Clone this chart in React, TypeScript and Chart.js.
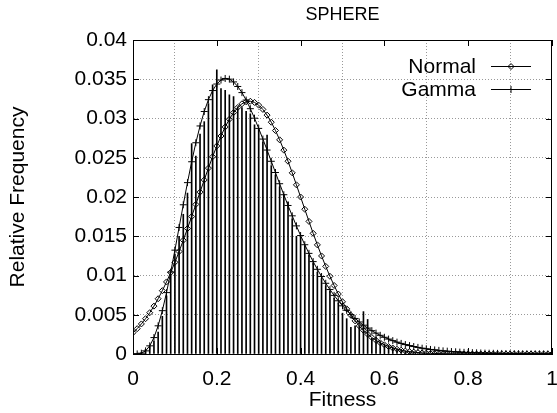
import React, { useEffect, useRef } from 'react';
import { Chart, registerables } from 'chart.js';

Chart.register(...registerables);

const TITLE = 'SPHERE';
const X_LABEL = 'Fitness';
const Y_LABEL = 'Relative Frequency';
const SERIES_NAMES = ['Normal', 'Gamma'];

const X_TICKS = [0, 0.2, 0.4, 0.6, 0.8, 1];
const X_TICK_LABELS = ['0', '0.2', '0.4', '0.6', '0.8', '1'];
const Y_TICKS = [0, 0.005, 0.01, 0.015, 0.02, 0.025, 0.03, 0.035, 0.04];
const Y_TICK_LABELS = ['0', '0.005', '0.01', '0.015', '0.02', '0.025', '0.03', '0.035', '0.04'];

// histogram impulses: first bin at HIST_START, one every HIST_STEP
const HIST_START = 0;
const HIST_STEP = 0.01;
const HIST_FREQ = [
  0, 0.0001, 0.0002, 0.0006, 0.0010, 0.0016, 0.0028, 0.0048, 0.0074, 0.0100,
  0.0127, 0.0150, 0.0178, 0.0205, 0.0268, 0.0252, 0.0280, 0.0296, 0.0319, 0.0343,
  0.0362, 0.0338, 0.0336, 0.0330, 0.0328, 0.0315, 0.0314, 0.0309, 0.0306, 0.0292,
  0.0287, 0.0270, 0.0279, 0.0240, 0.0228, 0.0213, 0.0203, 0.0194, 0.0172, 0.0150,
  0.0149, 0.0138, 0.0126, 0.0116, 0.0104, 0.0096, 0.0087, 0.0080, 0.0071, 0.0065,
  0.0052, 0.0045, 0.0034, 0.0036, 0.0036, 0.0054, 0.0044, 0.0020, 0.0022, 0.0016,
  0.0013, 0.0011, 0.0009, 0.0007, 0.0006, 0.0004, 0.0003, 0.0003, 0.0002, 0.0001,
  0.0001,
];

// fitted curves: sampled from CURVE_START every CURVE_STEP
const CURVE_START = 0;
const CURVE_STEP = 0.01;
const NORMAL_FIT = [
  0.00272, 0.00323, 0.00383, 0.00450, 0.00526, 0.00610, 0.00704, 0.00807, 0.00918, 0.01039,
  0.01168, 0.01305, 0.01449, 0.01598, 0.01751, 0.01906, 0.02062, 0.02217, 0.02368, 0.02513,
  0.02650, 0.02777, 0.02892, 0.02991, 0.03075, 0.03140, 0.03187, 0.03213, 0.03220, 0.03205,
  0.03170, 0.03116, 0.03043, 0.02953, 0.02847, 0.02728, 0.02597, 0.02456, 0.02308, 0.02155,
  0.02000, 0.01844, 0.01689, 0.01537, 0.01390, 0.01249, 0.01116, 0.00990, 0.00873, 0.00764,
  0.00665, 0.00575, 0.00494, 0.00422, 0.00358, 0.00302, 0.00253, 0.00210, 0.00174, 0.00143,
  0.00117, 0.00095, 0.00076, 0.00061, 0.00049, 0.00038, 0.00030, 0.00024, 0.00018, 0.00014,
  0.00011, 0.00008, 0.00006, 0.00005, 0.00003, 0.00002, 0.00002, 0.00001, 0.00001, 0.00001,
  0.00001, 0, 0, 0, 0, 0, 0, 0, 0, 0,
  0, 0, 0, 0, 0, 0, 0, 0, 0, 0,
  0,
];
const GAMMA_FIT = [
  0, 0.00001, 0.00010, 0.00040, 0.00104, 0.00209, 0.00359, 0.00552, 0.00782, 0.01043,
  0.01323, 0.01612, 0.01901, 0.02183, 0.02449, 0.02691, 0.02905, 0.03089, 0.03240, 0.03356,
  0.03439, 0.03490, 0.03510, 0.03501, 0.03466, 0.03408, 0.03330, 0.03235, 0.03125, 0.03004,
  0.02874, 0.02738, 0.02598, 0.02455, 0.02312, 0.02169, 0.02029, 0.01892, 0.01760, 0.01632,
  0.01509, 0.01392, 0.01282, 0.01177, 0.01079, 0.00987, 0.00901, 0.00821, 0.00747, 0.00678,
  0.00614, 0.00556, 0.00502, 0.00453, 0.00408, 0.00367, 0.00330, 0.00297, 0.00266, 0.00238,
  0.00213, 0.00190, 0.00170, 0.00151, 0.00135, 0.00120, 0.00107, 0.00095, 0.00084, 0.00074,
  0.00066, 0.00058, 0.00052, 0.00046, 0.00040, 0.00036, 0.00031, 0.00028, 0.00024, 0.00021,
  0.00019, 0.00017, 0.00015, 0.00013, 0.00011, 0.00010, 0.00009, 0.00008, 0.00007, 0.00006,
  0.00005, 0.00004, 0.00004, 0.00003, 0.00003, 0.00002, 0.00002, 0.00002, 0.00002, 0.00001,
  0.00001,
];

const FONT_FAMILY = '"Liberation Sans", Arial, Helvetica, sans-serif';
const FONT_SIZE = 21;

function drawDiamond(ctx: CanvasRenderingContext2D, x: number, y: number, r: number) {
  ctx.beginPath();
  ctx.moveTo(x, y - r);
  ctx.lineTo(x + r, y);
  ctx.lineTo(x, y + r);
  ctx.lineTo(x - r, y);
  ctx.closePath();
  ctx.stroke();
}
function drawCross(ctx: CanvasRenderingContext2D, x: number, y: number, r: number) {
  ctx.beginPath();
  ctx.moveTo(x - r, y);
  ctx.lineTo(x + r, y);
  ctx.moveTo(x, y - r);
  ctx.lineTo(x, y + r);
  ctx.stroke();
}

const framePlugin = {
  id: 'gnuFrame',
  afterDatasetsDraw(chart: any) {
    const { ctx, chartArea: a, scales } = chart;
    ctx.save();
    ctx.strokeStyle = '#000';
    ctx.lineWidth = 1;
    ctx.setLineDash([]);
    ctx.strokeRect(Math.round(a.left) + 0.5, Math.round(a.top) + 0.5,
      Math.round(a.right - a.left) - 1, Math.round(a.bottom - a.top));
    const tl = 6;
    ctx.beginPath();
    X_TICKS.forEach((v) => {
      const px = Math.round(scales.x.getPixelForValue(v)) + 0.5;
      ctx.moveTo(px, a.bottom); ctx.lineTo(px, a.bottom - tl);
      ctx.moveTo(px, a.top); ctx.lineTo(px, a.top + tl);
    });
    Y_TICKS.forEach((v) => {
      const py = Math.round(scales.y.getPixelForValue(v)) + 0.5;
      ctx.moveTo(a.left, py); ctx.lineTo(a.left + tl, py);
      ctx.moveTo(a.right, py); ctx.lineTo(a.right - tl, py);
    });
    ctx.stroke();
    ctx.restore();
  },
  afterDraw(chart: any) {
    const { ctx, chartArea: a } = chart;
    ctx.save();
    ctx.font = `${FONT_SIZE}px ${FONT_FAMILY}`;
    ctx.fillStyle = '#000';
    ctx.strokeStyle = '#000';
    ctx.lineWidth = 1;
    ctx.textAlign = 'right';
    ctx.textBaseline = 'middle';
    const rows = [a.top + 26, a.top + 49];
    const textRight = a.right - 76;
    const lx0 = a.right - 61;
    const lx1 = a.right - 21;
    SERIES_NAMES.forEach((name, i) => {
      const y = Math.round(rows[i]) + 0.5;
      ctx.fillText(name, textRight, y + 1);
      ctx.beginPath();
      ctx.moveTo(lx0, y);
      ctx.lineTo(lx1, y);
      ctx.stroke();
      const mx = (lx0 + lx1) / 2;
      if (i === 0) drawDiamond(ctx, mx, y, 3);
      else drawCross(ctx, mx, y, 3.5);
    });
    ctx.restore();
  },
};

export default function App() {
  const ref = useRef<HTMLCanvasElement | null>(null);
  useEffect(() => {
    const canvas = ref.current;
    if (!canvas) return;
    Chart.defaults.font.family = FONT_FAMILY;
    Chart.defaults.font.size = FONT_SIZE;
    Chart.defaults.color = '#000';

    const histData = HIST_FREQ.map((y, i) => ({ x: HIST_START + i * HIST_STEP, y }));
    const normalData = NORMAL_FIT.map((y, i) => ({ x: CURVE_START + i * CURVE_STEP, y }));
    const gammaData = GAMMA_FIT.map((y, i) => ({ x: CURVE_START + i * CURVE_STEP, y }));

    const chart = new Chart(canvas, {
      type: 'bar',
      data: {
        datasets: [
          {
            type: 'line',
            label: SERIES_NAMES[0],
            data: normalData,
            borderColor: '#000',
            borderWidth: 1,
            pointStyle: 'rectRot',
            pointRadius: 3,
            pointBorderWidth: 1,
            pointBorderColor: '#000',
            pointBackgroundColor: 'rgba(255,255,255,0)',
            tension: 0,
            order: 1,
          } as any,
          {
            type: 'line',
            label: SERIES_NAMES[1],
            data: gammaData,
            borderColor: '#000',
            borderWidth: 1,
            pointStyle: 'cross',
            pointRadius: 3.5,
            pointBorderWidth: 1,
            pointBorderColor: '#000',
            tension: 0,
            order: 2,
          } as any,
          {
            type: 'bar',
            label: 'histogram',
            data: histData,
            backgroundColor: '#000',
            borderWidth: 0,
            barThickness: 1,
            order: 3,
          } as any,
        ],
      },
      options: {
        responsive: false,
        animation: false,
        layout: { padding: { left: 0, right: 3, top: 0, bottom: 0 } },
        plugins: {
          legend: { display: false },
          tooltip: { enabled: false },
          title: {
            display: true,
            text: TITLE,
            fullSize: false,
            font: { size: 18, weight: 'normal' },
            color: '#000',
            padding: { top: 4, bottom: 14.4 },
          },
        },
        scales: {
          x: {
            type: 'linear',
            min: 0,
            max: 1,
            offset: false,
            afterBuildTicks: (s: any) => { s.ticks = X_TICKS.map((v) => ({ value: v })); },
            afterFit: (s: any) => { s.height = 59; s.paddingLeft = 0; s.paddingRight = 0; },
            ticks: {
              callback: (_v: any, i: number) => X_TICK_LABELS[i],
              maxRotation: 0,
              autoSkip: false,
              padding: 13,
              color: '#000',
            },
            grid: { color: '#999', lineWidth: 1, drawTicks: false },
            border: { display: true, color: '#000', dash: [1, 2] },
            title: { display: true, text: X_LABEL, padding: { top: 0, bottom: 0 }, color: '#000' },
          },
          y: {
            type: 'linear',
            min: 0,
            max: 0.04,
            afterBuildTicks: (s: any) => { s.ticks = Y_TICKS.map((v) => ({ value: v })); },
            afterFit: (s: any) => { s.width = 133; },
            ticks: {
              callback: (_v: any, i: number) => Y_TICK_LABELS[i],
              autoSkip: false,
              padding: 6,
              color: '#000',
            },
            grid: { color: '#999', lineWidth: 1, drawTicks: false },
            border: { display: true, color: '#000', dash: [1, 2] },
            title: { display: true, text: Y_LABEL, padding: { top: 6, bottom: 0 }, color: '#000' },
          },
        },
      },
      plugins: [framePlugin],
    } as any);
    return () => chart.destroy();
  }, []);

  return (
    <div style={{ position: 'absolute', left: 0, top: 0, width: 557, height: 413, background: '#fff' }}>
      <canvas ref={ref} width={557} height={413} style={{ display: 'block' }} />
    </div>
  );
}
